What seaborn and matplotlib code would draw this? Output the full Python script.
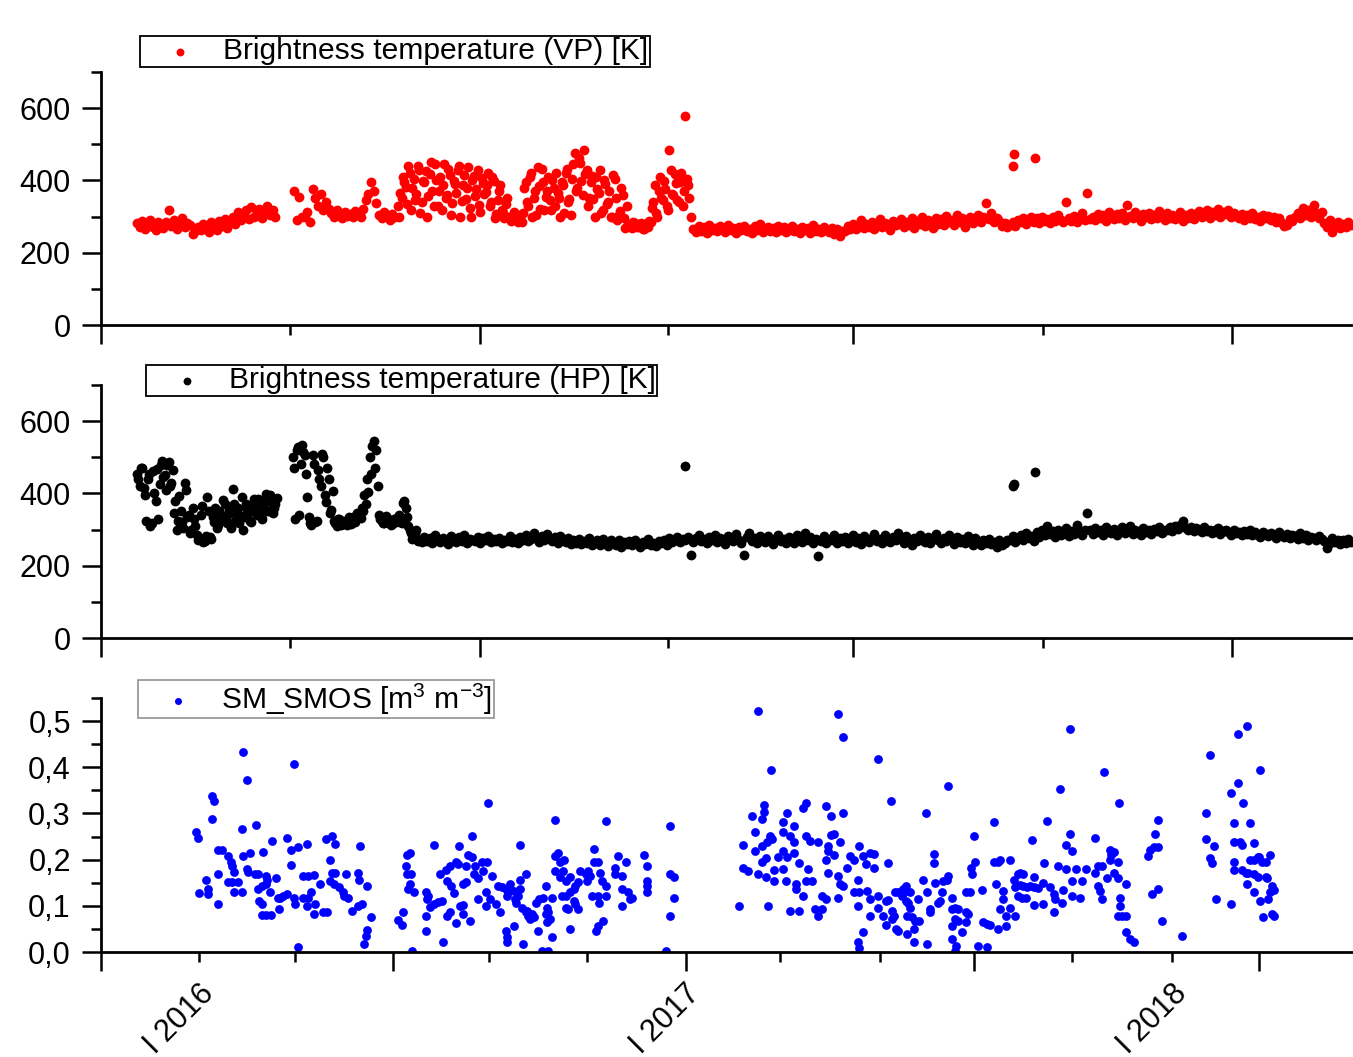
import numpy as np
import pandas as pd
import matplotlib
matplotlib.use("Agg")
import matplotlib.pyplot as plt
import seaborn as sns

sns.set_style("ticks")
plt.rcParams["font.family"] = ["Liberation Sans", "DejaVu Sans"]
plt.rcParams["mathtext.fontset"] = "custom"
plt.rcParams["mathtext.rm"] = "Liberation Sans"
plt.rcParams["mathtext.it"] = "Liberation Sans:italic"
for key in ["text.color", "axes.labelcolor", "xtick.color", "ytick.color", "axes.edgecolor"]:
    plt.rcParams[key] = "black"

nan = np.nan

# ========== Brightness temperature, even days (day 0, 2, 4, ...) ==========
vp_k = [
    282, 270, 288, 266, 279, 291, 272, 263, 284, 276,
    268, 285, 318, 274, 290, 265, 281, 296, 270, 283,
    277, 252, 259, 272, 262, 280, 268, 257, 285, 270,
    263, 289, 275, 294, 268, 286, 300, 279, 312, 290,
    305, 318, 293, 326, 300, 314, 322, 296, 310, 329,
    304, 318, 298, nan, nan, nan, nan, nan, nan, 372,
    290, 355, 300, 298, 312, 286, 376, 352, 330, 362,
    318, 340, 322, 310, 300, 318, 305, 296, 312, 302,
    308, 298, 315, 304, 300, 320, 345, 362, 395, 372,
    338, 305, 296, 312, 300, 290, 308, 298, 330, 365,
    410, 382, 440, 318, 405, 362, 428, 340, 395, 300,
    418, 372, 446, 330, 410, 388, 352, 432, 305, 398,
    365, 440, 342, 415, 378, 325, 402, 356, 430, 312,
    392, 368, 420, 340, 398, 306, 372, 318, 296, 352,
    300, 290, 305, 284, 298, 310, 395, 330, 420, 352,
    305, 385, 432, 318, 372, 345, 402, 330, 365, 298,
    388, 420, 340, 305, 445, 372, 462, 398, 485, 430,
    352, 412, 300, 375, 428, 318, 390, 340, 298, 415,
    352, 305, 380, 295, 330, 275, 268, 282, 270, 278,
    265, 280, 272, 285, 340, 310, 372, 352, 398, 330,
    485, 362, 418, 345, 395, 330, 579, 388, 300, 265,
    257, 274, 261, 270, 255, 276, 263, 268, 259, 273,
    265, 257, 278, 262, 269, 255, 271, 264, 275, 260,
    267, 254, 273, 263, 279, 258, 266, 272, 261, 268,
    256, 275, 263, 270, 257, 265, 274, 259, 267, 255,
    272, 263, 269, 254, 277, 261, 266, 258, 271, 263,
    256, 269, 251, 265, 245, 261, 260, 274, 266, 279,
    265, 275, 290, 268, 280, 272, 286, 266, 278, 292,
    270, 283, 275, 262, 288, 276, 281, 294, 270, 285,
    277, 296, 268, 288, 279, 300, 274, 290, 283, 268,
    297, 280, 292, 276, 302, 285, 290, 278, 305, 284,
    296, 272, 288, 300, 281, 294, 303, 286, 298, 337,
    292, 310, 284, 296, 288, 275, 282, 270, 278, 286,
    274, 290, 284, 296, 280, 292, 300, 286, 295, 282,
    298, 288, 293, 281, 299, 287, 305, 290, 284, 340,
    296, 288, 302, 285, 297, 310, 290, 365, 294, 300,
    290, 308, 296, 305, 288, 312, 299, 293, 306, 297,
    310, 291, 331, 302, 295, 314, 300, 289, 307, 298,
    311, 292, 304, 296, 315, 300, 290, 309, 297, 305,
    293, 300, 312, 288, 303, 297, 310, 294, 301, 316,
    300, 309, 318, 296, 312, 305, 320, 300, 314, 306,
    318, 298, 310, 302, 295, 308, 291, 303, 297, 309,
    293, 300, 288, 305, 296, 302, 290, 298, 286, 295,
    283, 275, 278, 292, 288, 300, 310, 296, 325, 305,
    318, 300, 331, 310, 295, 312, 282, 270, 290, 258,
    276, 285, 268, 280, 272, 286, 278,
]
# odd days 197, 199, ... (the scattered period)
vp_k_odd = [
    300, 352, 395, 335, 420, 380, 345, 440, 310, 398,
    425, 356, 452, 330, 402, 372, 318, 445, 360, 415,
    338, 390, 428, 300, 388, 350, 438, 298, 412, 376,
    332, 408, 362, 386, 330, 410, 295, 345, 388, 310,
    335, 300, 288, 312, 292, 305, 284, 380, 340, 410,
    298, 372, 438, 322, 395, 355, 410, 318, 378, 420,
    352, 395, 310, 432, 348, 405, 475, 380, 448, 360,
    418, 330, 395, 348, 410, 365, 310, 402, 335, 372,
    300, 405, 290, 315, 360, 268, 280, 272, 285, 276,
    270, 283, 266, 279, 288, 325, 388, 300, 410, 345,
    375, 318, 428, 360, 392, 340, 420, 372, 405, 352,
]
vp_odd_start = 197
vp_out_day = [658, 659, 675]
vp_out_k = [440, 473, 463]

hp_k = [
    455, 420, 470, 395, 440, 310, 462, 380, 330, 478,
    445, 410, 488, 430, 345, 300, 392, 320, 428, 335,
    290, 360, 310, 270, 340, 265, 282, 352, 275, 320,
    305, 350, 330, 372, 318, 345, 413, 325, 360, 338,
    300, 370, 348, 322, 385, 340, 362, 330, 378, 352,
    395, 345, 370, nan, nan, nan, nan, nan, nan, 470,
    520, 340, 535, 505, 390, 318, 505, 320, 465, 420,
    500, 375, 440, 355, 325, 310, 330, 318, 322, 312,
    328, 335, 320, 340, 332, 350, 372, 405, 455, 545,
    520, 340, 325, 318, 332, 322, 315, 328, 335, 320,
    374, 360, 310, 290, 280, 300, 272, 265, 280, 268,
    276, 262, 284, 270, 266, 278, 270, 261, 282, 274,
    266, 279, 268, 285, 263, 275, 271, 267, 280, 262,
    276, 270, 283, 265, 274, 269, 278, 264, 272, 268,
    281, 266, 275, 262, 279, 270, 284, 268, 273, 290,
    276, 265, 281, 270, 287, 274, 268, 279, 263, 282,
    272, 266, 276, 260, 271, 264, 274, 259, 268, 262,
    278, 256, 266, 270, 258, 275, 262, 255, 270, 264,
    258, 272, 252, 266, 261, 268, 257, 270, 263, 253,
    266, 260, 275, 258, 264, 254, 268, 262, 272, 258,
    276, 265, 270, 280, 266, 274, 270, 280, 231, 266,
    276, 284, 268, 274, 262, 279, 271, 286, 265, 277,
    270, 260, 282, 274, 268, 288, 272, 263, 229, 279,
    290, 268, 276, 262, 283, 270, 266, 281, 273, 260,
    278, 286, 268, 275, 264, 280, 271, 262, 284, 276,
    266, 290, 270, 279, 263, 274, 226, 268, 281, 262,
    275, 270, 286, 264, 277, 268, 280, 262, 273, 284,
    266, 276, 260, 282, 270, 265, 278, 288, 268, 274,
    262, 285, 272, 266, 280, 270, 290, 276, 264, 282,
    270, 258, 278, 268, 285, 272, 266, 280, 262, 274,
    288, 270, 263, 278, 268, 284, 272, 260, 279, 266,
    275, 262, 282, 270, 258, 276, 268, 256, 272, 262,
    275, 260, 266, 252, 270, 258, 264, 272, 270, 282,
    266, 278, 285, 272, 290, 276, 283, 268, 292, 280,
    298, 284, 310, 288, 295, 279, 300, 286, 293, 305,
    282, 297, 288, 312, 295, 285, 300, 347, 298, 288,
    305, 292, 300, 286, 308, 295, 290, 302, 284, 298,
    306, 290, 296, 310, 288, 300, 294, 285, 304, 292,
    298, 287, 302, 295, 306, 290, 298, 300, 308, 296,
    310, 302, 312, 323, 305, 300, 308, 295, 304, 298,
    292, 306, 296, 300, 290, 298, 304, 288, 296, 300,
    292, 285, 298, 290, 294, 286, 295, 289, 298, 284,
    292, 286, 280, 294, 288, 282, 290, 285, 278, 292,
    284, 280, 288, 276, 286, 281, 275, 290, 278, 284,
    272, 280, 276, 270, 283, 274, 268, 248, 262, 276,
    266, 272, 260, 270, 264, 274, 266,
]
# odd days 1, 3, ... (the scattered period)
hp_k_odd = [
    440, 470, 415, 325, 455, 318, 400, 468, 425, 490,
    452, 478, 420, 465, 380, 325, 352, 305, 410, 340,
    298, 330, 285, 275, 365, 268, 390, 280, 335, 360,
    312, 340, 382, 328, 355, 305, 370, 345, 318, 390,
    335, 358, 325, 372, 348, 385, 340, 362, 398, 352,
    375, 360, 388, nan, nan, nan, nan, nan, 500, 330,
    528, 480, 515, 455, 335, 312, 482, 325, 440, 510,
    395, 470, 345, 408, 318, 330, 312, 325, 320, 335,
    315, 330, 345, 338, 360, 395, 440, 500, 530, 470,
    420, 330, 318, 338, 325, 312, 330, 322, 340, 318,
    380, 335, 300, 275, 290, 268,
]
hp_odd_start = 1
hp_out_day = [412, 658, 659, 675]
hp_out_k = [477, 420, 427, 460]

# ========== SM_SMOS (days since 1 Jan 2016) ==========
smos_day = [
    -2, -1, 0, 5, 7, 7, 10, 11, 10, 14,
    17, 14, 14, 22, 24, 25, 26, 22, 25, 29,
    26, 32, 33, 36, 32, 33, 38, 36, 37, 43,
    42, 44, 44, 47, 45, 47, 48, 50, 51, 50,
    53, 47, 50, 54, 55, 58, 59, 61, 60, 63,
    66, 66, 69, 74, 69, 71, 72, 71, 74, 78,
    82, 86, 81, 78, 82, 84, 81, 86, 87, 91,
    93, 96, 95, 100, 102, 98, 100, 102, 98, 101,
    105, 108, 109, 110, 112, 115, 119, 120, 119, 122,
    121, 126, 129, 126, 125, 124, 149, 152, 153, 156,
    158, 155, 156, 159, 158, 157, 161, 160, 170, 172,
    171, 170, 170, 173, 176, 176, 179, 182, 181, 185,
    188, 183, 186, 188, 186, 189, 191, 193, 194, 195,
    193, 196, 198, 198, 200, 198, 200, 202, 205, 205,
    206, 207, 203, 209, 209, 212, 216, 213, 215, 215,
    217, 218, 220, 223, 226, 224, 227, 230, 232, 230,
    231, 231, 231, 233, 236, 237, 239, 241, 238, 242,
    245, 247, 248, 246, 250, 251, 236, 243, 241, 241,
    245, 253, 255, 258, 254, 260, 261, 262, 260, 263,
    261, 265, 265, 257, 262, 267, 267, 269, 271, 274,
    267, 273, 271, 275, 278, 272, 275, 275, 277, 278,
    281, 282, 284, 281, 282, 284, 278, 286, 290, 292,
    293, 291, 296, 296, 299, 295, 299, 301, 302, 305,
    300, 303, 299, 298, 305, 305, 312, 312, 314, 317,
    317, 317, 320, 322, 323, 325, 334, 336, 336, 336,
    336, 353, 353, 356, 356, 353, 350, 405, 408, 408,
    412, 415, 417, 417, 419, 419, 425, 422, 424, 424,
    422, 426, 428, 430, 422, 425, 429, 427, 431, 431,
    434, 438, 438, 441, 438, 441, 438, 440, 443, 450,
    443, 446, 446, 446, 448, 448, 450, 453, 455, 453,
    455, 460, 455, 458, 457, 462, 464, 467, 464, 467,
    470, 470, 470, 472, 472, 472, 474, 474, 476, 476,
    479, 479, 481, 483, 479, 481, 483, 483, 486, 488,
    491, 491, 495, 501, 494, 494, 495, 498, 494, 495,
    498, 500, 503, 506, 506, 503, 503, 509, 509, 509,
    515, 517, 513, 515, 520, 521, 520, 517, 519, 522,
    524, 527, 528, 531, 533, 523, 524, 530, 530, 532,
    533, 531, 535, 537, 531, 536, 536, 539, 540, 543,
    545, 546, 546, 548, 548, 551, 551, 552, 554, 556,
    557, 558, 561, 562, 562, 565, 565, 567, 569, 565,
    567, 569, 565, 568, 567, 572, 575, 577, 575, 575,
    578, 580, 579, 582, 581, 584, 591, 587, 588, 591,
    593, 596, 596, 599, 601, 598, 599, 601, 603, 603,
    605, 605, 608, 608, 612, 611, 614, 616, 618, 612,
    616, 618, 621, 623, 626, 629, 614, 617, 620, 625,
    626, 626, 633, 634, 636, 638, 641, 642, 633, 641,
    644, 646, 647, 648, 650, 650, 653, 653, 655, 655,
    655, 658, 661, 662, 665, 672, 672, 674, 677, 674,
    676, 677, 679, 681, 683, 684, 686, 683, 689, 686,
    689, 690, 691, 691, 689, 692, 695, 695, 695, 698,
    701, 712, 713, 716, 719, 717, 719, 715, 719, 722,
    737, 755, 755, 758, 758, 760, 761, 763, 774, 774,
    776, 776, 776, 776, 779, 779, 781, 782, 782, 785,
    787, 791, 794, 783, 786, 786, 788, 788, 791, 794,
    797, 800, 803, 795, 791, 791, 796, 796, 798, 800,
    801, 805, 803, 802, 806, 805, 806,
]
smos_val = [
    .261, .248, .127, .155, .136, .125, .337, .326, .289, .222,
    .222, .168, .105, .207, .196, .186, .173, .151, .151, .151,
    .131, .131, .433, .372, .266, .208, .214, .179, .173, .276,
    .168, .168, .136, .142, .110, .103, .216, .164, .157, .147,
    .130, .080, .080, .080, .240, .160, .118, .118, .094, .121,
    .125, .248, .220, .227, .189, .116, .105, .408, .011, .164,
    .164, .166, .235, .118, .116, .131, .099, .082, .105, .147,
    .086, .086, .244, .251, .233, .199, .172, .172, .153, .147,
    .140, .130, .121, .170, .116, .088, .172, .157, .099, .105,
    .229, .144, .075, .047, .034, .017, .070, .058, .086, .211,
    .214, .187, .168, .168, .147, .136, .131, .002, .130, .121,
    .114, .078, .045, .097, .103, .231, .108, .110, .170, .177,
    .186, .021, .078, .086, .153, .144, .127, .196, .190, .229,
    .062, .099, .101, .147, .151, .082, .186, .211, .205, .251,
    .168, .186, .068, .160, .114, .196, .196, .175, .130, .099,
    .322, .114, .164, .105, .086, .142, .140, .136, .130, .045,
    .032, .121, .021, .147, .132, .114, .121, .136, .107, .096,
    .086, .078, .071, .088, .082, .075, .056, .017, .157, .231,
    .170, .107, .114, .118, .045, .142, .096, .086, .082, .071,
    .064, .118, .032, .002, .002, .285, .207, .214, .196, .200,
    .175, .175, .162, .153, .162, .121, .121, .096, .094, .130,
    .136, .142, .151, .110, .103, .093, .049, .175, .168, .175,
    .164, .153, .223, .196, .196, .121, .121, .172, .153, .142,
    .107, .068, .056, .045, .283, .121, .181, .168, .207, .164,
    .136, .099, .196, .130, .114, .116, .210, .187, .153, .142,
    .130, .272, .170, .162, .118, .078, .002, .099, .231, .183,
    .175, .294, .261, .218, .521, .168, .162, .287, .304, .319,
    .229, .238, .251, .244, .196, .203, .395, .099, .177, .153,
    .205, .261, .281, .302, .218, .205, .179, .153, .088, .088,
    .251, .274, .238, .214, .147, .136, .193, .311, .322, .121,
    .153, .153, .251, .240, .179, .094, .078, .093, .238, .121,
    .114, .316, .200, .172, .229, .218, .294, .253, .255, .210,
    .515, .164, .147, .142, .116, .238, .465, .302, .183, .207,
    .200, .130, .130, .132, .157, .099, .229, .043, .021, .008,
    .207, .190, .214, .183, .212, .114, .078, .417, .121, .096,
    .110, .112, .078, .058, .088, .078, .071, .192, .326, .130,
    .130, .121, .136, .132, .130, .049, .045, .142, .110, .107,
    .096, .078, .075, .067, .038, .049, .021, .114, .067, .157,
    .300, .130, .017, .093, .086, .212, .192, .149, .107, .110,
    .130, .153, .157, .164, .359, .116, .093, .096, .093, .056,
    .071, .067, .029, .013, .002, .043, .064, .082, .086, .130,
    .130, .168, .183, .196, .251, .013, .011, .134, .064, .060,
    .058, .281, .194, .196, .199, .147, .049, .093, .132, .114,
    .078, .056, .200, .096, .078, .157, .168, .172, .168, .140,
    .145, .142, .140, .142, .140, .138, .121, .118, .116, .242,
    .162, .101, .149, .192, .283, .140, .125, .114, .105, .086,
    .187, .352, .107, .134, .179, .231, .482, .255, .218, .153,
    .121, .179, .116, .153, .179, .247, .172, .187, .187, .142,
    .132, .114, .390, .160, .222, .211, .216, .200, .196, .172,
    .160, .322, .116, .099, .078, .078, .078, .147, .043, .028,
    .021, .207, .222, .227, .227, .255, .285, .125, .136, .068,
    .034, .302, .245, .426, .203, .192, .229, .114, .344, .103,
    .279, .238, .194, .177, .473, .366, .238, .231, .177, .172,
    .172, .168, .162, .322, .147, .489, .279, .200, .200, .205,
    .196, .196, .210, .205, .236, .130, .394, .110, .075, .162,
    .160, .143, .130, .114, .134, .082, .078,
]

# ========== axes ticks / labels ==========
tb_major = [-27, 258, 538, 823]
tb_minor = [115, 399, 681]
tb_yticks = [0, 200, 400, 600]
tb_ylabels = ["0", "200", "400", "600"]
tb_yminor = [100, 300, 500, 700]

sm_major = [-73.5, 145.5, 365, 581, 795]
sm_minor = [0, 72, 217.5, 291, 436, 511, 655, 730]
sm_yticks = [0.0, 0.1, 0.2, 0.3, 0.4, 0.5]
sm_ylabels = ["0,0", "0,1", "0,2", "0,3", "0,4", "0,5"]
sm_yminor = [0.05, 0.15, 0.25, 0.35, 0.45, 0.55]
year_day = [0, 365, 730]
year_lab = ["I 2016", "I 2017", "I 2018"]

vp_day = np.arange(len(vp_k)) * 2
vp_day_odd = vp_odd_start + np.arange(len(vp_k_odd)) * 2
hp_day = np.arange(len(hp_k)) * 2
hp_day_odd = hp_odd_start + np.arange(len(hp_k_odd)) * 2
df_vp = pd.DataFrame({"day": np.r_[vp_day, vp_day_odd, vp_out_day],
                      "tb": np.r_[vp_k, vp_k_odd, vp_out_k]})
df_hp = pd.DataFrame({"day": np.r_[hp_day, hp_day_odd, hp_out_day],
                      "tb": np.r_[hp_k, hp_k_odd, hp_out_k]})
df_sm = pd.DataFrame({"day": smos_day, "sm": smos_val})

FS = 22

fig = plt.figure(figsize=(13.53, 10.57), dpi=100)
ax1 = fig.add_axes([0.0746, 0.6925, 0.9254, 0.2394])
ax2 = fig.add_axes([0.0746, 0.3964, 0.9254, 0.2394])
ax3 = fig.add_axes([0.0746, 0.0993, 0.9254, 0.2403])

sns.scatterplot(data=df_vp, x="day", y="tb", ax=ax1, color="#ff0000", s=50,
                linewidth=0, label="Brightness temperature (VP) [K]")
sns.scatterplot(data=df_hp, x="day", y="tb", ax=ax2, color="black", s=50,
                linewidth=0, label="Brightness temperature (HP) [K]")
sns.scatterplot(data=df_sm, x="day", y="sm", ax=ax3, color="#0000ff", s=40,
                linewidth=0, label=r"SM_SMOS [m$^3$ m$^{-3}$]")


def style(ax, xlim, ylim, xmaj, xmin, ymaj, ylab, ymin):
    ax.set_xlim(xlim)
    ax.set_ylim(ylim)
    ax.set_xticks(xmaj)
    ax.set_xticklabels([""] * len(xmaj))
    ax.set_xticks(xmin, minor=True)
    ax.set_yticks(ymaj)
    ax.set_yticklabels(ylab)
    ax.set_yticks(ymin, minor=True)
    ax.set_xlabel("")
    ax.set_ylabel("")
    for s in ["top", "right"]:
        ax.spines[s].set_visible(False)
    for s in ["left", "bottom"]:
        ax.spines[s].set_linewidth(2)
        ax.spines[s].set_color("black")
    ax.tick_params(which="major", direction="out", length=13.7, width=1.8,
                   labelsize=FS, pad=8, colors="black")
    ax.tick_params(which="minor", direction="out", length=7.2, width=1.8,
                   colors="black")


style(ax1, (-27, 913.6), (0, 700), tb_major, tb_minor, tb_yticks, tb_ylabels, tb_yminor)
style(ax2, (-27, 913.6), (0, 700), tb_major, tb_minor, tb_yticks, tb_ylabels, tb_yminor)
style(ax3, (-73.5, 865.5), (0, 0.55), sm_major, sm_minor, sm_yticks, sm_ylabels, sm_yminor)

for d, lab in zip(year_day, year_lab):
    ax3.annotate(lab, xy=(d, 0), xycoords=("data", "axes fraction"),
                 xytext=(15, -19), textcoords="offset points",
                 rotation=45, ha="right", va="top", fontsize=FS)

legend_kw = dict(loc="lower left", borderaxespad=0, fontsize=21.6, frameon=True,
                 fancybox=False, framealpha=1, borderpad=0.05,
                 handlelength=2.6, handletextpad=0.12, scatterpoints=1,
                 markerscale=0.8)
for ax, anchor, ec in [(ax1, (0.0312, 1.0198), "black"),
                       (ax2, (0.036, 0.9565), "black"),
                       (ax3, (0.0296, 0.921), "#9a9a9a")]:
    leg = ax.legend(bbox_to_anchor=anchor, edgecolor=ec, **legend_kw)
    leg.get_frame().set_linewidth(1.3)

fig.savefig("out.png", dpi=100)
